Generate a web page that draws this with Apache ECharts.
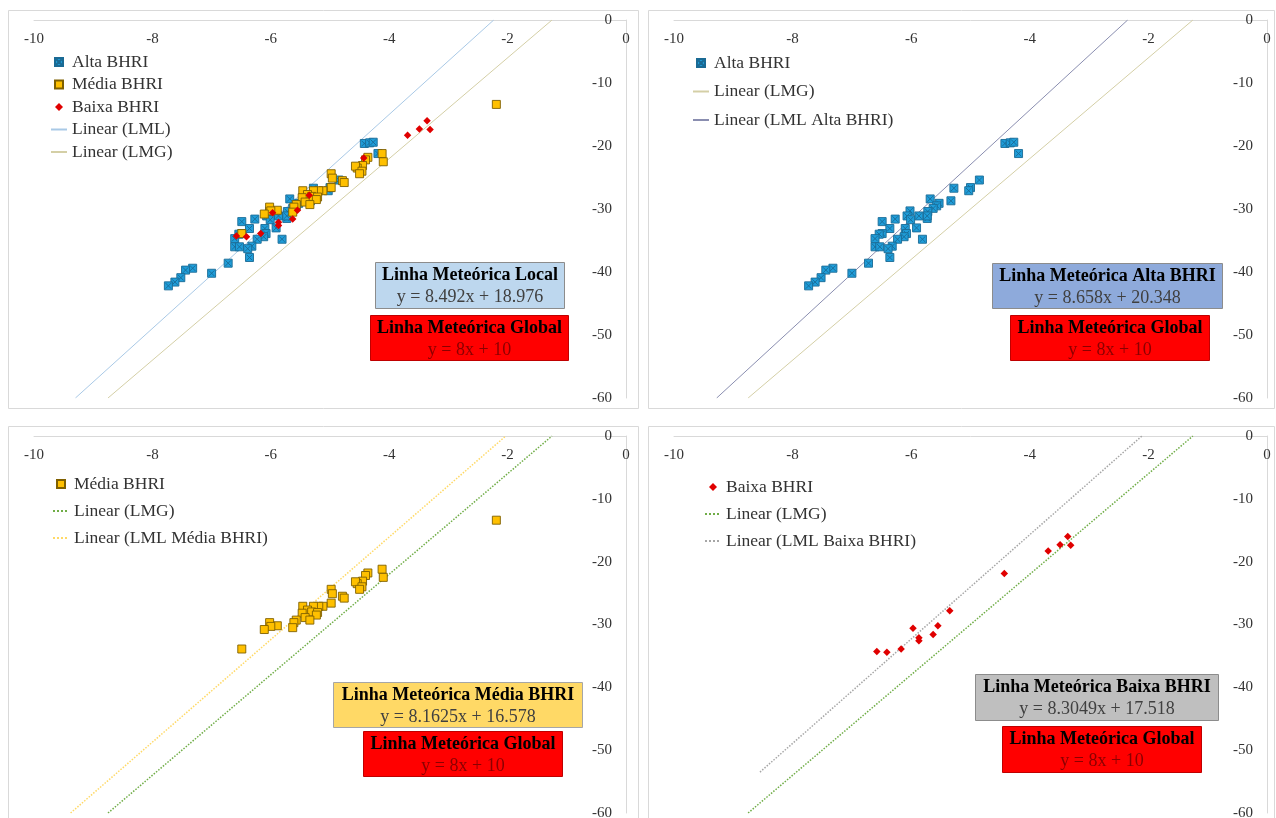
<!DOCTYPE html>
<html>
<head>
<meta charset="utf-8">
<script src="https://cdn.jsdelivr.net/npm/echarts@6/dist/echarts.min.js"></script>
<style>
html,body{margin:0;padding:0;background:#ffffff;}
#c{width:1276px;height:818px;}
</style>
</head>
<body>
<div id="c"></div>
<script>
// ---- axis ticks ----
const xTicks = [-10, -8, -6, -4, -2, 0];
const yTicks = [0, -10, -20, -30, -40, -50, -60];

// ---- data ----
const altaX = [-4.42, -4.33, -4.27, -4.19, -4.85, -5.00, -5.03, -5.28, -5.33, -5.68, -5.53, -5.57, -5.63, -5.72, -5.73, -5.73, -5.87, -6.02, -6.07, -6.01, -6.27, -6.49, -5.91, -6.10, -6.08, -6.36, -6.49, -6.54, -6.61, -6.12, -6.23, -5.81, -6.61, -6.53, -6.32, -6.39, -6.36, -6.72, -7.00, -7.32, -7.44, -7.52, -7.62, -7.73];
const altaY = [-19.6, -19.5, -19.4, -21.2, -25.4, -26.6, -27.1, -26.7, -28.7, -28.4, -29.1, -29.5, -29.9, -30.4, -31.5, -31.1, -31.1, -30.3, -31.1, -31.7, -31.6, -32.0, -33.0, -33.1, -33.9, -33.1, -33.9, -34.0, -34.7, -34.4, -34.8, -34.8, -36.0, -36.0, -35.9, -36.3, -37.7, -38.6, -40.2, -39.4, -39.7, -40.9, -41.6, -42.2];

const mediaX = [-2.19, -4.12, -4.10, -4.36, -4.40, -4.45, -4.54, -4.57, -4.46, -4.50, -4.98, -4.96, -4.79, -4.76, -4.98, -5.12, -5.19, -5.28, -5.46, -5.38, -5.31, -5.21, -5.23, -5.47, -5.42, -5.34, -5.57, -5.61, -5.63, -5.89, -6.02, -6.00, -6.11, -6.49];
const mediaY = [-13.4, -21.2, -22.5, -21.8, -22.2, -23.1, -23.5, -23.2, -24.0, -24.4, -24.4, -25.1, -25.5, -25.8, -26.6, -27.1, -27.1, -27.1, -27.1, -27.7, -28.0, -28.1, -28.5, -28.2, -28.9, -29.3, -29.3, -29.7, -30.5, -30.2, -29.7, -30.3, -30.8, -33.9];

const baixaX = [-3.36, -3.31, -3.49, -3.69, -4.43, -5.35, -5.55, -5.63, -5.97, -5.87, -5.87, -6.17, -6.41, -6.58];
const baixaY = [-16.0, -17.4, -17.3, -18.3, -21.9, -27.8, -30.2, -31.6, -30.6, -32.1, -32.6, -33.9, -34.4, -34.3];

// ---- trend lines (equations shown on the chart) ----
const lmlSlope = [8.492, 8.658, 8.1625, 8.3049];
const lmlIntercept = [18.976, 20.348, 16.578, 17.518];
const lmlStartX = [null, null, null, -8.55];
const lmgSlope = 8;
const lmgIntercept = 10;

const yMin = yTicks[yTicks.length - 1], yMax = yTicks[0];
const xMin = xTicks[0], xMax = xTicks[xTicks.length - 1];
function zip(xs, ys) { return xs.map((x, i) => [x, ys[i]]); }
function lineEnds(m, b, xs) {
  let x0 = (yMin - b) / m;
  if (xs !== null && xs > x0) x0 = xs;
  const x1 = (yMax - b) / m;
  return [[x0, m * x0 + b], [x1, yMax]];
}

const FONT = "'Liberation Serif','Times New Roman',serif";
const labelMap = {
  a1: 'Alta BHRI', m1: 'Média BHRI', b1: 'Baixa BHRI', lml1: 'Linear (LML)', lmg1: 'Linear (LMG)',
  a2: 'Alta BHRI', lmg2: 'Linear (LMG)', lml2: 'Linear (LML Alta BHRI)',
  m3: 'Média BHRI', lmg3: 'Linear (LMG)', lml3: 'Linear (LML Média BHRI)',
  b4: 'Baixa BHRI', lmg4: 'Linear (LMG)', lml4: 'Linear (LML Baixa BHRI)'
};

const grids = [
  { left: 34, top: 20, width: 592, height: 378 },
  { left: 674, top: 20, width: 593, height: 378 },
  { left: 34, top: 436, width: 592, height: 377 },
  { left: 674, top: 436, width: 593, height: 377 }
];

const xAxes = grids.map((g, i) => ({
  type: 'value', gridIndex: i, position: 'top', min: xMin, max: xMax, interval: 2,
  axisLine: { show: true, onZero: false, lineStyle: { color: '#d9d9d9', width: 1 } },
  axisTick: { show: false }, splitLine: { show: false },
  axisLabel: { inside: true, margin: 12, fontSize: 15, fontFamily: FONT, color: '#333' }
}));
const yAxes = grids.map((g, i) => ({
  type: 'value', gridIndex: i, position: 'right', min: yMin, max: yMax, interval: 10,
  axisLine: { show: true, onZero: false, lineStyle: { color: '#d9d9d9', width: 1 } },
  axisTick: { show: false }, splitLine: { show: false },
  axisLabel: { inside: true, margin: 14, fontSize: 15, fontFamily: FONT, color: '#333' }
}));

const altaSymbol = 'path://M0,0L10,0L10,10L0,10Z M1.5,1.5L8.5,8.5 M8.5,1.5L1.5,8.5';
const mediaSymbol = 'path://M0,0L10,0L10,10L0,10Z';
const baixaSymbol = 'path://M5,0L10,5L5,10L0,5Z';
function alta(name, idx) {
  return { name, type: 'scatter', xAxisIndex: idx, yAxisIndex: idx, data: zip(altaX, altaY),
    symbol: altaSymbol, symbolSize: 8, z: 3,
    itemStyle: { color: '#1f9dd9', borderColor: '#1a6a94', borderWidth: 0.9, opacity: 1 } };
}
function media(name, idx) {
  return { name, type: 'scatter', xAxisIndex: idx, yAxisIndex: idx, data: zip(mediaX, mediaY),
    symbol: mediaSymbol, symbolSize: 8, z: 4,
    itemStyle: { color: '#ffc000', borderColor: '#7f6000', borderWidth: 0.9, opacity: 1 } };
}
function baixa(name, idx) {
  return { name, type: 'scatter', xAxisIndex: idx, yAxisIndex: idx, data: zip(baixaX, baixaY),
    symbol: baixaSymbol, symbolSize: 7.5, z: 5,
    itemStyle: { color: '#e00000', opacity: 1 } };
}
function line(name, idx, pts, color, type, width) {
  return { name, type: 'line', xAxisIndex: idx, yAxisIndex: idx, data: pts, symbol: 'none', z: 2,
    silent: true, itemStyle: { color }, lineStyle: { color, type, width } };
}

const lmgPts = lineEnds(lmgSlope, lmgIntercept, null);
const series = [
  line('lml1', 0, lineEnds(lmlSlope[0], lmlIntercept[0], lmlStartX[0]), '#a9c9e6', 'solid', 1),
  line('lmg1', 0, lmgPts, '#d4cfa6', 'solid', 1),
  alta('a1', 0), media('m1', 0), baixa('b1', 0),

  line('lmg2', 1, lmgPts, '#d4cfa6', 'solid', 1),
  line('lml2', 1, lineEnds(lmlSlope[1], lmlIntercept[1], lmlStartX[1]), '#8a8eb0', 'solid', 1),
  alta('a2', 1),

  line('lmg3', 2, lmgPts, '#70ad47', 'dotted', 1.5),
  line('lml3', 2, lineEnds(lmlSlope[2], lmlIntercept[2], lmlStartX[2]), '#ffd966', 'dotted', 1.5),
  media('m3', 2),

  line('lmg4', 3, lmgPts, '#70ad47', 'dotted', 1.5),
  line('lml4', 3, lineEnds(lmlSlope[3], lmlIntercept[3], lmlStartX[3]), '#a6a6a6', 'dotted', 1.5),
  baixa('b4', 3)
];

function legend(names, left, top, gap) {
  const data = names.map(n => n.indexOf('lm') === 0 ? { name: n, itemStyle: { opacity: 0 } } : { name: n });
  return { data, orient: 'vertical', left, top, itemGap: gap, itemWidth: 16, itemHeight: 8, padding: 0,
    selectedMode: false, formatter: n => labelMap[n], symbolKeepAspect: true,
    textStyle: { fontFamily: FONT, fontSize: 17.5, color: '#333', lineHeight: 18 } };
}

function box(x, y, w, h, fill, stroke, title, eq, eqColor) {
  return { type: 'group', children: [
    { type: 'rect', shape: { x, y, width: w, height: h }, style: { fill, stroke, lineWidth: 1 } },
    { type: 'text', x: x + w / 2, y: y + 13, style: { text: title, fill: '#000', align: 'center', verticalAlign: 'middle',
      font: "bold 18px 'Liberation Serif','Times New Roman',serif" } },
    { type: 'text', x: x + w / 2, y: y + 35, style: { text: eq, fill: eqColor, align: 'center', verticalAlign: 'middle',
      font: "18px 'Liberation Serif','Times New Roman',serif" } }
  ] };
}
function frame(x, y, w, h) {
  return { type: 'rect', shape: { x, y, width: w, height: h }, style: { fill: 'none', stroke: '#d9d9d9', lineWidth: 1 }, silent: true, z: -10 };
}

const option = {
  animation: false,
  backgroundColor: '#ffffff',
  grid: grids.map(g => Object.assign({ outerBoundsMode: 'none', containLabel: false }, g)),
  xAxis: xAxes,
  yAxis: yAxes,
  legend: [
    legend(['a1', 'm1', 'b1', 'lml1', 'lmg1'], 50, 53, 4.5),
    legend(['a2', 'lmg2', 'lml2'], 692, 54, 10.5),
    legend(['m3', 'lmg3', 'lml3'], 52, 475, 9),
    legend(['b4', 'lmg4', 'lml4'], 704, 478, 9)
  ],
  graphic: [
    frame(8.5, 10.5, 630, 398), frame(648.5, 10.5, 626, 398),
    frame(8.5, 426.5, 630, 400), frame(648.5, 426.5, 626, 400),
    box(375.5, 262.5, 189, 46, '#bdd7ee', '#8c8c8c', 'Linha Meteórica Local', 'y = 8.492x + 18.976', '#404040'),
    box(370.5, 315.5, 198, 45, '#ff0000', '#c00000', 'Linha Meteórica Global', 'y = 8x + 10', '#8b0000'),
    box(992.5, 263.5, 230, 45, '#8eaadb', '#8c8c8c', 'Linha Meteórica Alta BHRI', 'y = 8.658x + 20.348', '#404040'),
    box(1010.5, 315.5, 199, 45, '#ff0000', '#c00000', 'Linha Meteórica Global', 'y = 8x + 10', '#8b0000'),
    box(333.5, 682.5, 249, 45, '#ffd966', '#a6a6a6', 'Linha Meteórica Média BHRI', 'y = 8.1625x + 16.578', '#404040'),
    box(363.5, 731.5, 199, 45, '#ff0000', '#c00000', 'Linha Meteórica Global', 'y = 8x + 10', '#8b0000'),
    box(975.5, 674.5, 243, 46, '#bfbfbf', '#8c8c8c', 'Linha Meteórica Baixa BHRI', 'y = 8.3049x + 17.518', '#404040'),
    box(1002.5, 726.5, 199, 46, '#ff0000', '#c00000', 'Linha Meteórica Global', 'y = 8x + 10', '#8b0000')
  ],
  series
};

const chart = echarts.init(document.getElementById('c'), null, { renderer: 'canvas' });
chart.setOption(option);
</script>
</body>
</html>
